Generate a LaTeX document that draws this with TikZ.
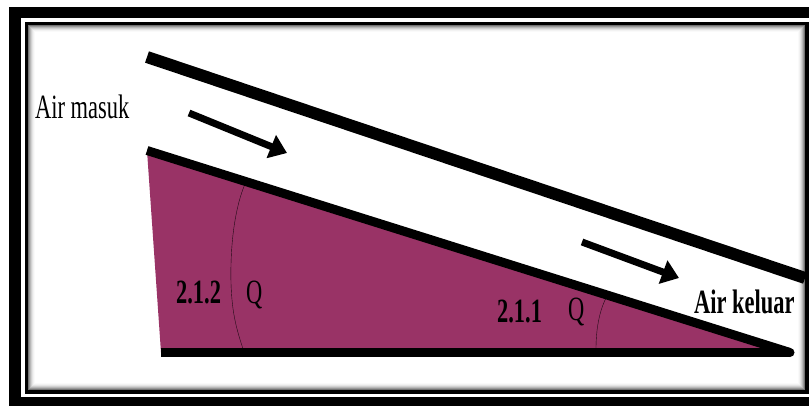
\documentclass[tikz,border=0pt]{standalone}
\usepackage{fontspec}
\setmainfont{Liberation Serif}
\usetikzlibrary{positioning,arrows.meta,calc}
\definecolor{plum}{HTML}{993366}
\begin{document}
\begin{tikzpicture}[
        x=1pt, y=-1pt,
        lbl/.style={anchor=base west, inner sep=0pt, font=\fontsize{34}{34}\selectfont,
                    xscale=0.66, transform shape},
        lblb/.style={lbl, font=\fontsize{34}{34}\selectfont\bfseries},
        wall/.style={line width=#1, black},
        flow/.style={line width=7pt, -{Triangle[length=17pt,width=24pt]}},
        angle/.style={thin, black!80!plum},
      ]
        \useasboundingbox (0,0) rectangle (809,405);

        % Double frame
        \fill[black] (9,7) rectangle (830,430);
        \fill[white] (21,17.5) rectangle (830,397);
        \fill[black] (25,21.5) rectangle (830,394);
        \fill[white] (28,25) rectangle (805,390);
        \foreach \d/\g in {0/45,1/60,2/72,3/82,4/90,5/95,6/98}
          \draw[black!\the\numexpr100-\g\relax, line width=1pt]
            (28.5+\d,25.5+\d) rectangle (804.5-\d,389.5-\d);

        % Named points
        \coordinate (topa) at (147,57);
        \coordinate (topb) at (805,278);
        \coordinate (lowa) at (147,150.5);
        \coordinate (tip) at (790,352.5);
        \coordinate (basea) at (161,352.5);

        % Wedge
        \fill[plum] (lowa) -- (basea) -- (tip) -- cycle;
        \draw[angle] (245,184) .. controls (236,205) and (230,240) .. (231,283)
          .. controls (232,315) and (237,330) .. (243,349);
        \draw[angle] (606,298) .. controls (599,312) and (596,330) .. (596,349);

        % Walls
        \draw[wall=12pt] (topa) -- (topb);
        \draw[wall=9pt] (lowa) -- (tip);
        \draw[wall=9pt] (basea) -- (tip);
        \fill[black] (tip) circle (4.5);

        % Flow arrows
        \coordinate (ina) at (189,113);
        \coordinate (inb) at (287,153);
        \coordinate (outa) at (582,242);
        \coordinate (outb) at (679,278);
        \draw[flow] (ina) -- (inb);
        \draw[flow] (outa) -- (outb);

        % Labels
        \node[lbl] (masuk) at (35,118) {Air masuk};
        \node[lblb] (keluar) at (694,313) {Air keluar};
        \node[lblb] (lefta) at (176,303) {2.1.2};
        \node[lbl] (leftq) at (246,303) {Q};
        \node[lblb] (righta) at (497,322) {2.1.1};
        \node[lbl] (rightq) at (568,320) {Q};
      \end{tikzpicture}
\end{document}
